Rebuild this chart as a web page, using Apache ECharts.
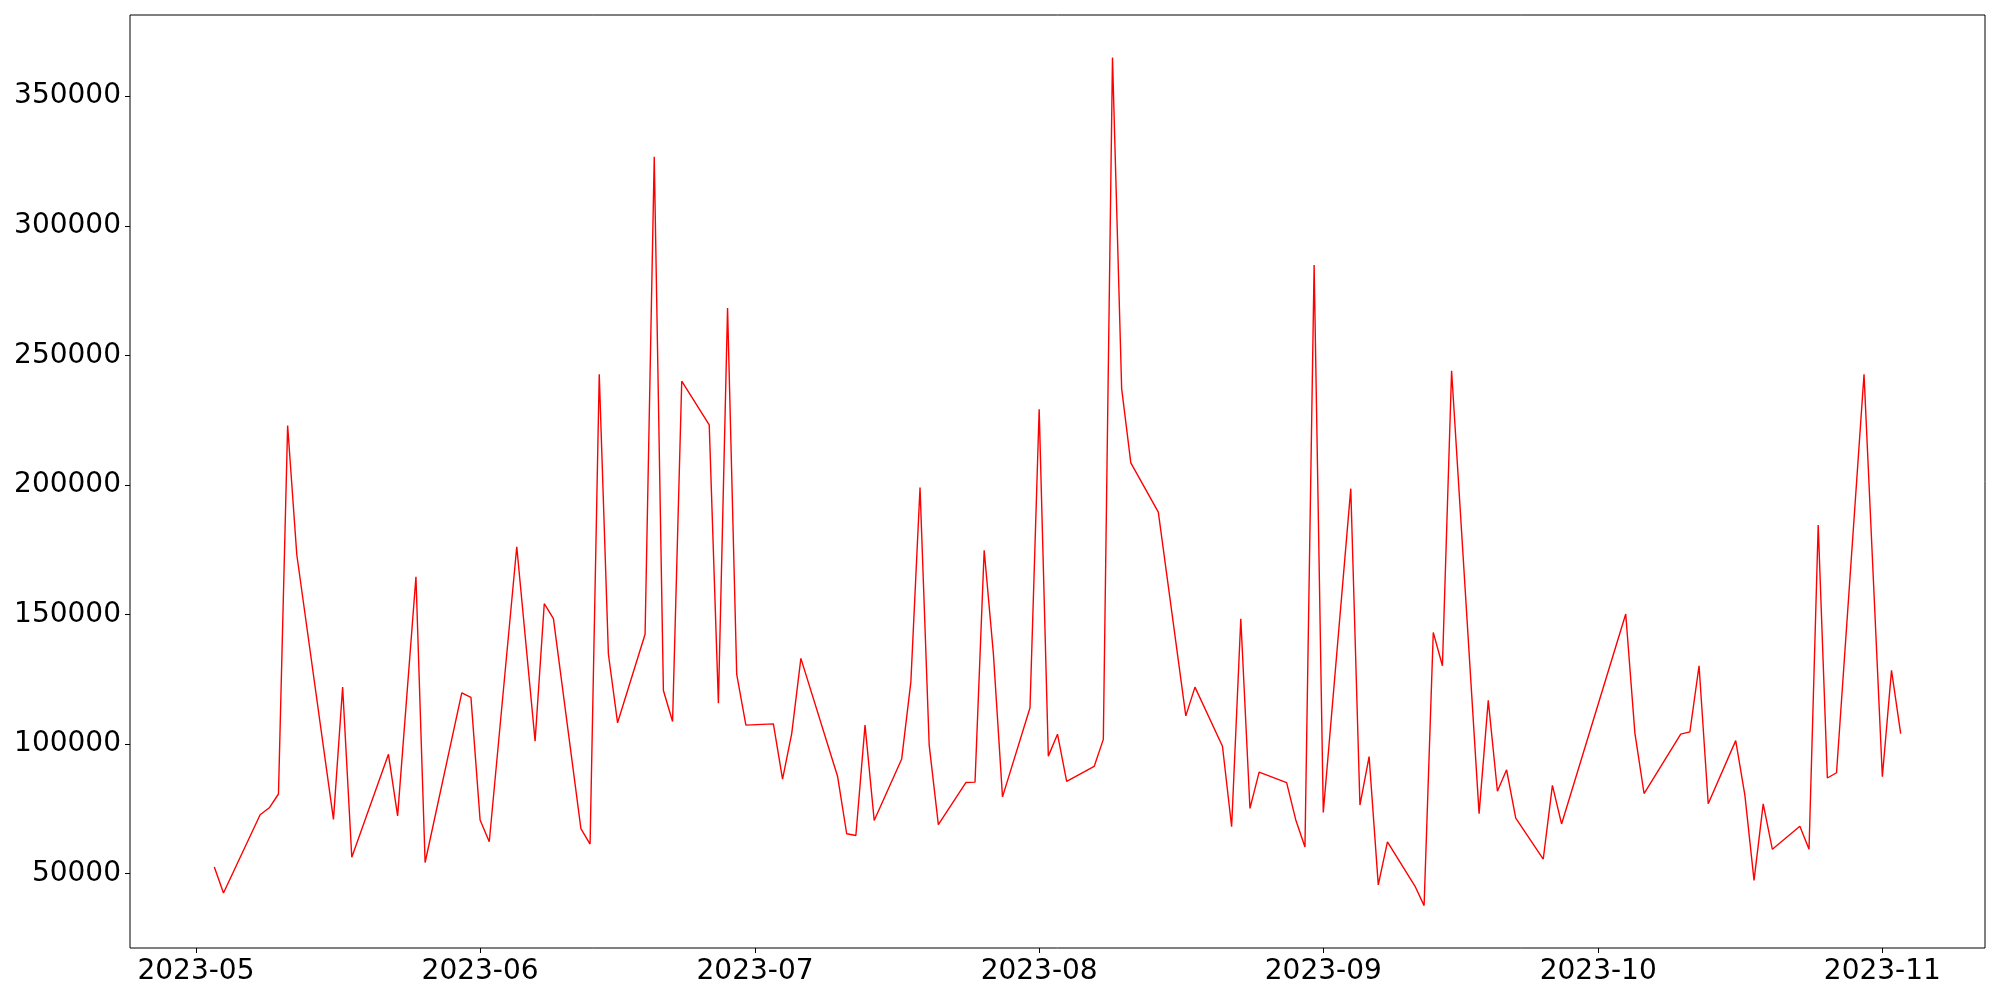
<!DOCTYPE html>
<html>
<head>
<meta charset="utf-8">
<script src="https://cdn.jsdelivr.net/npm/echarts@6/dist/echarts.min.js"></script>
<style>
  html, body { margin: 0; padding: 0; background: #fff; }
  #chart { width: 2000px; height: 1000px; }
</style>
</head>
<body>
<div id="chart"></div>
<script>
const dates = [
  '2023-05-03', '2023-05-04', '2023-05-08', '2023-05-09', '2023-05-10', '2023-05-11', '2023-05-12',
  '2023-05-16', '2023-05-17', '2023-05-18', '2023-05-22', '2023-05-23', '2023-05-25', '2023-05-26',
  '2023-05-30', '2023-05-31', '2023-06-01', '2023-06-02', '2023-06-05', '2023-06-07', '2023-06-08',
  '2023-06-09', '2023-06-12', '2023-06-13', '2023-06-14', '2023-06-15', '2023-06-16', '2023-06-19',
  '2023-06-20', '2023-06-21', '2023-06-22', '2023-06-23', '2023-06-26', '2023-06-27', '2023-06-28',
  '2023-06-29', '2023-06-30', '2023-07-03', '2023-07-04', '2023-07-05', '2023-07-06', '2023-07-10',
  '2023-07-11', '2023-07-12', '2023-07-13', '2023-07-14', '2023-07-17', '2023-07-18', '2023-07-19',
  '2023-07-20', '2023-07-21', '2023-07-24', '2023-07-25', '2023-07-26', '2023-07-27', '2023-07-28',
  '2023-07-31', '2023-08-01', '2023-08-02', '2023-08-03', '2023-08-04', '2023-08-07', '2023-08-08',
  '2023-08-09', '2023-08-10', '2023-08-11', '2023-08-14', '2023-08-17', '2023-08-18', '2023-08-21',
  '2023-08-22', '2023-08-23', '2023-08-24', '2023-08-25', '2023-08-28', '2023-08-29', '2023-08-30',
  '2023-08-31', '2023-09-01', '2023-09-04', '2023-09-05', '2023-09-06', '2023-09-07', '2023-09-08',
  '2023-09-11', '2023-09-12', '2023-09-13', '2023-09-14', '2023-09-15', '2023-09-18', '2023-09-19',
  '2023-09-20', '2023-09-21', '2023-09-22', '2023-09-25', '2023-09-26', '2023-09-27', '2023-10-04',
  '2023-10-05', '2023-10-06', '2023-10-10', '2023-10-11', '2023-10-12', '2023-10-13', '2023-10-16',
  '2023-10-17', '2023-10-18', '2023-10-19', '2023-10-20', '2023-10-23', '2023-10-24', '2023-10-25',
  '2023-10-26', '2023-10-27', '2023-10-30', '2023-11-01', '2023-11-02', '2023-11-03'
]

const values = [
  52550, 42540, 72730, 75400, 80730, 222940, 173040,
  70950, 121980, 56300, 96040, 72270, 164570, 54290,
  119770, 118000, 70720, 62290, 176130, 101140, 154170,
  148380, 67400, 61400, 242700, 134650, 108210, 142390,
  326580, 120660, 108680, 240030, 223170, 115790, 268210,
  126850, 107320, 107790, 86490, 104040, 133070, 87610,
  65390, 64730, 107320, 70530, 94260, 123990, 198980,
  99560, 68940, 85140, 85300, 174780, 135080, 79610,
  114010, 229160, 95340, 103810, 85600, 91360, 101800,
  364960, 237170, 208520, 189470, 110880, 121980, 99140,
  68090, 148380, 75160, 89160, 85140, 70720, 60280,
  284870, 73620, 198550, 76480, 95150, 45670, 62290,
  45200, 37670, 143080, 130210, 244050, 73160, 116870,
  81810, 90050, 71380, 55640, 84050, 69170, 150160,
  104230, 80920, 103810, 104700, 130210, 76940, 101330,
  80270, 47410, 76940, 59390, 68280, 59390, 184560,
  86910, 88930, 242700, 87380, 128430, 104040
]

// tick labels
const monthTicks = ['2023-05', '2023-06', '2023-07', '2023-08', '2023-09', '2023-10', '2023-11']
const yTicks = [50000, 100000, 150000, 200000, 250000, 300000, 350000]

const toTime = s => {
  const p = s.split('-').map(Number)
  return new Date(p[0], p[1] - 1, p[2] || 1).getTime()
}

const xs = dates.map(toTime)
const monthTimes = monthTicks.map(toTime)

// matplotlib-like 5% margins
const xSpan = xs[xs.length - 1] - xs[0]
const xMin = xs[0] - xSpan * 0.05
const xMax = xs[xs.length - 1] + xSpan * 0.05
const yLo = Math.min(...values)
const yHi = Math.max(...values)
const yMin = yLo - (yHi - yLo) * 0.05
const yMax = yHi + (yHi - yLo) * 0.05

const chart = echarts.init(document.getElementById('chart'), null, { renderer: 'canvas' })

const labelFont = {
  fontFamily: 'DejaVu Sans',
  fontSize: 28,
  color: '#000'
}

const monthLabel = (v) => {
  const d = new Date(v)
  return d.getFullYear() + '-' + String(d.getMonth() + 1).padStart(2, '0')
}

chart.setOption({
  animation: false,
  backgroundColor: '#fff',
  grid: {
    left: 130,
    right: 15,
    top: 15,
    bottom: 52,
    show: true,
    borderColor: '#000',
    borderWidth: 1,
    backgroundColor: 'transparent'
  },
  xAxis: {
    type: 'value',
    min: xMin,
    max: xMax,
    axisLine: { show: false },
    splitLine: { show: false },
    axisTick: {
      show: true,
      inside: false,
      length: 5,
      lineStyle: { color: '#000', width: 1 },
      customValues: monthTimes
    },
    axisLabel: {
      ...labelFont,
      margin: 10,
      customValues: monthTimes,
      formatter: monthLabel
    }
  },
  yAxis: {
    type: 'value',
    min: yMin,
    max: yMax,
    axisLine: { show: false },
    splitLine: { show: false },
    axisTick: {
      show: true,
      inside: false,
      length: 5,
      lineStyle: { color: '#000', width: 1 },
      customValues: yTicks
    },
    axisLabel: {
      ...labelFont,
      margin: 9,
      customValues: yTicks,
      formatter: (v) => String(Math.round(v))
    }
  },
  series: [{
    type: 'line',
    data: xs.map((t, i) => [t, values[i]]),
    showSymbol: false,
    symbol: 'none',
    smooth: false,
    lineStyle: { color: '#ff0000', width: 1.4 },
    itemStyle: { color: '#ff0000' }
  }]
})
</script>
</body>
</html>
